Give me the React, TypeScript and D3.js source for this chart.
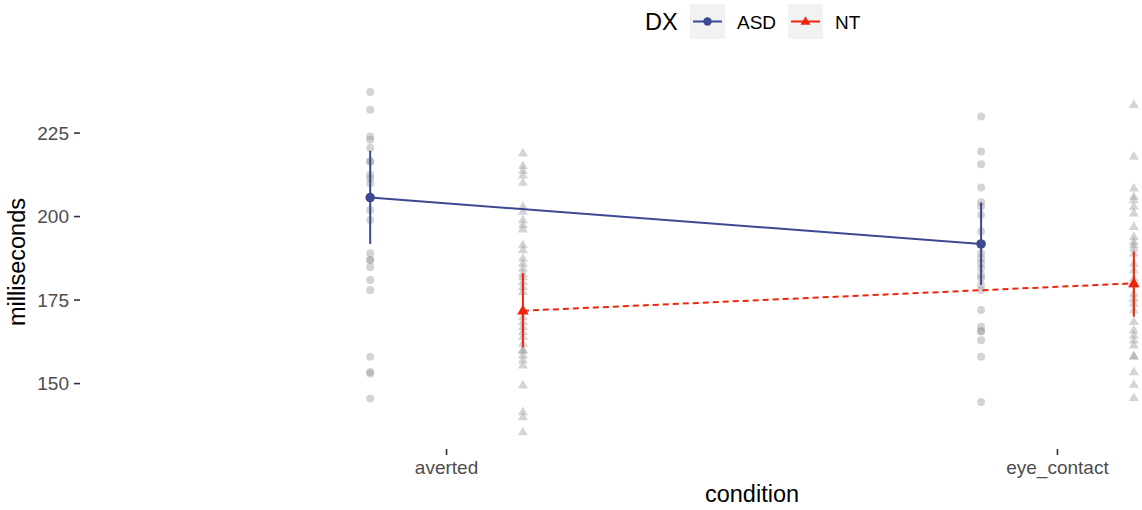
import React from 'react';
import * as d3 from 'd3';

// conditions on the x axis and the two groups
const conditions = ['averted', 'eye_contact'];
const groups = ['ASD', 'NT'];

// raw observations (ms), one column per group and condition
const asdAverted = [237.3, 232.0, 224.0, 223.0, 220.5, 216.5, 216.5, 212.5, 211.5, 210.0, 202.0, 199.0,
  189.0, 187.0, 187.0, 184.8, 181.0, 178.0, 158.0, 153.5, 153.0, 145.5];
const ntAverted = [219.0, 215.2, 213.8, 212.4, 210.2, 203.0, 201.5, 199.0, 197.5, 196.2, 191.5, 190.0,
  187.5, 186.0, 184.5, 183.0, 182.0, 180.5, 179.0, 177.5, 170.0, 168.5, 167.0, 165.5, 164.0, 162.0,
  160.0, 160.0, 158.5, 157.0, 155.5, 149.5, 141.5, 140.0, 135.5];
const asdEye = [230.0, 219.5, 215.7, 208.7, 204.3, 203.0, 200.5, 195.5, 191.5, 189.0, 187.5, 186.0,
  184.5, 182.5, 181.5, 179.5, 178.0, 172.0, 167.0, 165.7, 165.7, 163.0, 158.0, 144.5];
const ntEye = [233.5, 218.0, 208.5, 206.0, 205.0, 203.0, 201.0, 197.0, 194.0, 192.5, 191.5, 190.5,
  189.0, 186.0, 184.0, 181.5, 179.5, 177.0, 175.5, 174.0, 172.0, 168.5, 166.0, 164.5, 163.0, 161.5,
  158.2, 158.2, 153.5, 149.7, 145.8];

// summary: mean and error bar ends per condition
const asdMean = [205.7, 191.8];
const asdLow = [191.8, 179.5];
const asdHigh = [219.7, 204.2];
const ntMean = [171.8, 180.0];
const ntLow = [160.8, 170.0];
const ntHigh = [183.0, 189.5];

const yTicks = [150, 175, 200, 225];

const width = 1142;
const height = 510;
// the original panel ran past the right edge of the picture
const panel = { left: 80, right: 1424, top: 75, bottom: 449 };
const font = '"Liberation Sans", Arial, Helvetica, sans-serif';
const colors = { ASD: '#3B4992', NT: '#F0240A' };

const raw = [
  { group: 'ASD', cond: 'averted', values: asdAverted },
  { group: 'NT', cond: 'averted', values: ntAverted },
  { group: 'ASD', cond: 'eye_contact', values: asdEye },
  { group: 'NT', cond: 'eye_contact', values: ntEye },
];

const summary = {
  ASD: { mean: asdMean, low: asdLow, high: asdHigh },
  NT: { mean: ntMean, low: ntLow, high: ntHigh },
};

function triangle(cx, cy, s) {
  const h = s * 0.866;
  return `M${cx},${cy - h * 0.62}L${cx + s / 2},${cy + h * 0.38}L${cx - s / 2},${cy + h * 0.38}Z`;
}

export default function App() {
  const all = raw.flatMap(r => r.values);
  const [lo, hi] = d3.extent(all);
  const pad = (hi - lo) * 0.05;

  const y = d3.scaleLinear().domain([lo - pad, hi + pad]).range([panel.bottom, panel.top]);
  const x = d3.scalePoint().domain(conditions).range([panel.left, panel.right]).padding(0.6);
  const dodge = x.step() * 0.125;
  const xg = (cond, group) => x(cond) + (group === 'ASD' ? -dodge : dodge);

  const line = d3.line().x(d => d[0]).y(d => d[1]);

  return (
    <div style={{ position: 'absolute', left: 0, top: 0 }}>
      <svg width={width} height={height} style={{ display: 'block', background: '#fff' }}>
        {/* raw points */}
        {raw.map(r =>
          r.values.map((v, i) =>
            r.group === 'ASD' ? (
              <circle key={`${r.group}${r.cond}${i}`} cx={xg(r.cond, r.group)} cy={y(v)} r={4}
                fill="#999" fillOpacity={0.42} />
            ) : (
              <path key={`${r.group}${r.cond}${i}`} d={triangle(xg(r.cond, r.group), y(v), 10)}
                fill="#999" fillOpacity={0.42} />
            )
          )
        )}

        {/* group lines, error bars and means */}
        {groups.map(g => {
          const s = summary[g];
          const pts = conditions.map((c, i) => [xg(c, g), y(s.mean[i])]);
          return (
            <g key={g}>
              <path d={line(pts)} fill="none" stroke={colors[g]} strokeWidth={2}
                strokeDasharray={g === 'NT' ? '6,4' : null} />
              {conditions.map((c, i) => (
                <line key={c} x1={xg(c, g)} x2={xg(c, g)} y1={y(s.low[i])} y2={y(s.high[i])}
                  stroke={colors[g]} strokeWidth={2} />
              ))}
              {conditions.map((c, i) =>
                g === 'ASD' ? (
                  <circle key={c + 'm'} cx={xg(c, g)} cy={y(s.mean[i])} r={4.8} fill={colors[g]} />
                ) : (
                  <path key={c + 'm'} d={triangle(xg(c, g), y(s.mean[i]), 11.5)} fill={colors[g]} />
                )
              )}
            </g>
          );
        })}

        {/* y axis */}
        {yTicks.map(t => (
          <g key={t}>
            <line x1={panel.left - 6} x2={panel.left} y1={y(t)} y2={y(t)} stroke="#333" strokeWidth={1.6} />
            <text x={panel.left - 11} y={y(t)} dy="0.36em" textAnchor="end" fontFamily={font}
              fontSize={19} fill="#4D4D4D">{t}</text>
          </g>
        ))}
        <text transform={`translate(25,${(panel.top + panel.bottom) / 2}) rotate(-90)`} textAnchor="middle"
          fontFamily={font} fontSize={23.5} fill="#000">milliseconds</text>

        {/* x axis */}
        {conditions.map(c => (
          <g key={c}>
            <line x1={x(c)} x2={x(c)} y1={panel.bottom} y2={panel.bottom + 6} stroke="#333" strokeWidth={1.6} />
            <text x={x(c)} y={474} textAnchor="middle" fontFamily={font} fontSize={19} fill="#4D4D4D">{c}</text>
          </g>
        ))}
        <text x={(panel.left + panel.right) / 2} y={502} textAnchor="middle" fontFamily={font}
          fontSize={23.5} fill="#000">condition</text>

        {/* legend */}
        <text x={645} y={30} fontFamily={font} fontSize={23.5} fill="#000">DX</text>
        {groups.map((g, i) => {
          const bx = 690 + i * 98;
          const cy = 21.5;
          return (
            <g key={g}>
              <rect x={bx} y={4} width={35} height={35} fill="#F2F2F2" />
              <line x1={bx + 3} x2={bx + 32} y1={cy} y2={cy} stroke={colors[g]} strokeWidth={2} />
              {g === 'ASD' ? (
                <circle cx={bx + 17.5} cy={cy} r={4.2} fill={colors[g]} />
              ) : (
                <path d={triangle(bx + 17.5, cy, 10)} fill={colors[g]} />
              )}
              <text x={bx + 47} y={29} fontFamily={font} fontSize={19} fill="#000">{g}</text>
            </g>
          );
        })}
      </svg>
    </div>
  );
}
